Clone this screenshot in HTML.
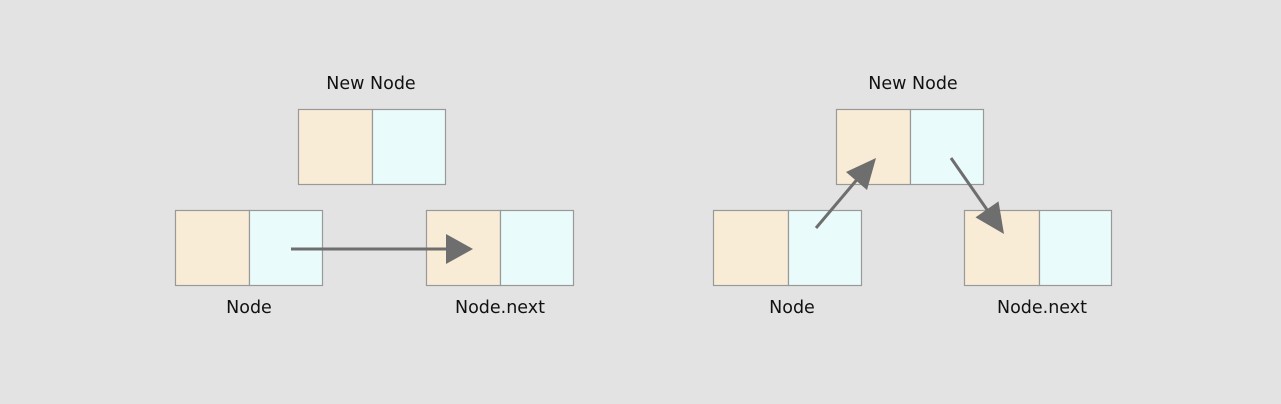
<!DOCTYPE html>
<html><head><style>
html,body{margin:0;padding:0;background:#e3e3e3;}
svg{display:block}
text{font-family:"DejaVu Sans","Liberation Sans",sans-serif;font-size:17.5px;fill:#111;text-anchor:middle}
</style></head><body>
<svg width="1281" height="404" viewBox="0 0 1281 404">
<rect width="1281" height="404" fill="#e3e3e3"/>
<g stroke="#999" stroke-width="1.2">
<rect x="298.5" y="109.5" width="74" height="75" fill="#f8ecd7"/><rect x="372.5" y="109.5" width="73" height="75" fill="#e9fbfa"/>
<rect x="175.5" y="210.5" width="74" height="75" fill="#f8ecd7"/><rect x="249.5" y="210.5" width="73" height="75" fill="#e9fbfa"/>
<rect x="426.5" y="210.5" width="74" height="75" fill="#f8ecd7"/><rect x="500.5" y="210.5" width="73" height="75" fill="#e9fbfa"/>
<rect x="836.5" y="109.5" width="74" height="75" fill="#f8ecd7"/><rect x="910.5" y="109.5" width="73" height="75" fill="#e9fbfa"/>
<rect x="713.5" y="210.5" width="75" height="75" fill="#f8ecd7"/><rect x="788.5" y="210.5" width="73" height="75" fill="#e9fbfa"/>
<rect x="964.5" y="210.5" width="75" height="75" fill="#f8ecd7"/><rect x="1039.5" y="210.5" width="72" height="75" fill="#e9fbfa"/>
</g>
<g stroke="#6e6e6e" stroke-width="3" fill="#6e6e6e">
<line x1="291" y1="249" x2="450" y2="249"/>
<polygon stroke="none" points="446,234 473,249 446,264"/>
<line x1="816" y1="228" x2="860" y2="176"/>
<polygon stroke="none" points="846,172 876,158 867,190"/>
<line x1="951" y1="158" x2="990" y2="214"/>
<polygon stroke="none" points="975.5,217.4 1004,234 998.5,201.4"/>
</g>
<text x="371" y="89">New Node</text>
<text x="249" y="313">Node</text>
<text x="500" y="313">Node.next</text>
<text x="913" y="89">New Node</text>
<text x="792" y="313">Node</text>
<text x="1042" y="313">Node.next</text>
</svg>
</body></html>
